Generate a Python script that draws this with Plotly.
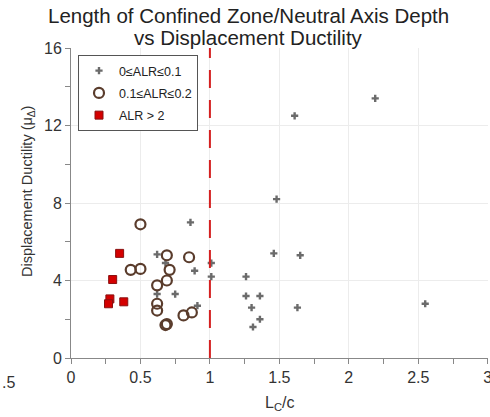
import plotly.graph_objects as go

# Series 1: 0 <= ALR <= 0.1 (crosses)
low_x = [2.19, 1.61, 1.48, 1.46, 1.65, 1.01, 1.01, 1.26, 1.26, 1.36, 1.30, 1.63, 1.36, 1.31, 2.55,
         0.86, 0.62, 0.68, 0.89, 0.75, 0.62, 0.91]
low_y = [13.4, 12.5, 8.2, 5.4, 5.3, 4.9, 4.2, 4.2, 3.2, 3.2, 2.6, 2.6, 2.0, 1.6, 2.8,
         7.0, 5.35, 4.9, 4.5, 3.3, 3.3, 2.7]

# Series 2: 0.1 <= ALR <= 0.2 (open circles)
mid_x = [0.50, 0.69, 0.85, 0.43, 0.50, 0.71, 0.69, 0.62, 0.62, 0.62, 0.81, 0.87, 0.68, 0.69]
mid_y = [6.9, 5.3, 5.2, 4.55, 4.6, 4.55, 4.0, 3.75, 2.8, 2.45, 2.2, 2.35, 1.7, 1.75]

# Series 3: ALR > 2 (red squares)
high_x = [0.35, 0.30, 0.28, 0.27, 0.38]
high_y = [5.4, 4.05, 3.05, 2.8, 2.9]

x_ticks = [0, 0.5, 1, 1.5, 2, 2.5, 3]
x_labels = ["0", "0.5", "1", "1.5", "2", "2.5", "3"]
y_ticks = [0, 4, 8, 12, 16]
threshold = 1

L, R, T, B = 71, 2, 48, 59
W, H = 490, 417
pw, ph = W - L - R, H - T - B

fig = go.Figure()
fig.add_trace(go.Scatter(x=low_x, y=low_y, mode="markers", name="0≤ALR≤0.1", legendgroup="a",
                         marker=dict(symbol="cross", size=6, color="#6b6b6b")))
fig.add_trace(go.Scatter(x=mid_x, y=mid_y, mode="markers", name="0.1≤ALR≤0.2", legendgroup="b",
                         marker=dict(symbol="circle-open", size=10, color="#5a3c2c",
                                     line=dict(width=2.2))))
fig.add_trace(go.Scatter(x=high_x, y=high_y, mode="markers", name="ALR > 2", legendgroup="c",
                         marker=dict(symbol="square", size=8, color="#d40000",
                                     line=dict(width=1, color="#8a1010"))))

fig.add_shape(type="line", x0=threshold, x1=threshold, y0=0, y1=16, xref="x", yref="y",
              line=dict(color="#d42020", width=2, dash="18px,12px"))

# Title lines
fig.add_annotation(text="Length of Confined Zone/Neutral Axis Depth", xref="paper", yref="paper",
                   x=(248 - L) / pw, y=(H - B - 15) / ph, showarrow=False,
                   xanchor="center", yanchor="middle", font=dict(size=20.5, color="#222"))
fig.add_annotation(text="vs Displacement Ductility", xref="paper", yref="paper",
                   x=(248 - L) / pw, y=(H - B - 37) / ph, showarrow=False,
                   xanchor="center", yanchor="middle", font=dict(size=20.5, color="#222"))

# Y axis title
fig.add_annotation(text="Displacement Ductility (μ<sub>Δ</sub>)", xref="paper", yref="paper",
                   x=(28 - L) / pw, y=(H - B - 192) / ph, showarrow=False, textangle=-90,
                   xanchor="center", yanchor="middle", font=dict(size=14.5, color="#333"))

# X axis title
fig.add_annotation(text="L<sub>C</sub>/c", xref="paper", yref="paper",
                   x=(279 - L) / pw, y=(H - B - 403) / ph, showarrow=False,
                   xanchor="center", yanchor="middle", font=dict(size=16, color="#333"))

# stray label from neighbouring chart at the left edge
fig.add_annotation(text=".5", xref="paper", yref="paper", x=(0 - L) / pw, y=(H - B - 382) / ph,
                   showarrow=False, font=dict(size=16, color="#333"), xanchor="left",
                   yanchor="middle")

fig.update_layout(
    width=W, height=H,
    margin=dict(l=L, r=R, t=T, b=B),
    paper_bgcolor="white", plot_bgcolor="white",
    font=dict(family="Liberation Sans, Arial", color="#333"),
    showlegend=True,
    legend=dict(x=(78 - L) / pw, y=(H - B - 55) / ph, xanchor="left", yanchor="top",
                bgcolor="white", bordercolor="#555", borderwidth=1,
                font=dict(size=12.5, color="#222"),
                tracegroupgap=3),
    xaxis=dict(range=[0, 3.002], tickvals=x_ticks, ticktext=x_labels, automargin=False,
               ticklabeloverflow="allow",
               showgrid=True, gridcolor="#ececec", zeroline=False,
               showline=True, linecolor="#888", linewidth=1,
               ticks="outside", ticklen=5, tickcolor="#888",
               minor=dict(dtick=0.25, ticks="outside", ticklen=5, tickcolor="#888", showgrid=False),
               tickfont=dict(size=16, color="#333")),
    yaxis=dict(range=[0, 16], tickvals=y_ticks, automargin=False,
               showgrid=True, gridcolor="#ececec", zeroline=False,
               showline=True, linecolor="#888", linewidth=1,
               ticks="outside", ticklen=5, tickcolor="#888",
               minor=dict(dtick=2, ticks="outside", ticklen=5, tickcolor="#888", showgrid=False),
               tickfont=dict(size=16, color="#333")),
)

fig.write_html("out.html", config={"displayModeBar": False},
               post_script="document.body.style.margin='0px';")
